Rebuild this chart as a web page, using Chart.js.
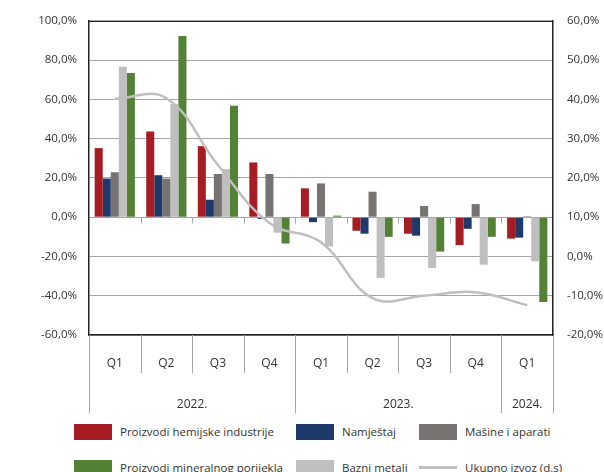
<!DOCTYPE html>
<html>
<head>
<meta charset="utf-8">
<script src="https://cdn.jsdelivr.net/npm/chart.js@4.4.1/dist/chart.umd.min.js"></script>
<style>
    html, body { margin: 0; padding: 0; background: #fff; }
    #wrap { position: relative; width: 604px; height: 472px; overflow: hidden; font-family: "Open Sans", sans-serif; color: #333; }
    #myChart { position: absolute; left: 0; top: 0; }
    .lg-box { position: absolute; width: 38px; height: 16px; }
    .lg-line { position: absolute; width: 38px; height: 3px; background: #bfbfbf; }
    .lg-text { position: absolute; font-size: 11.5px; line-height: 16px; white-space: nowrap; }
</style>
</head>
<body>
<div id="wrap">
    <canvas id="myChart" width="604" height="420"></canvas>
    <div id="legend"></div>
</div>
<script>
var quarters = ['Q1', 'Q2', 'Q3', 'Q4', 'Q1', 'Q2', 'Q3', 'Q4', 'Q1'];
var years = [
    {label: '2022.', from: 0, to: 4},
    {label: '2023.', from: 4, to: 8},
    {label: '2024.', from: 8, to: 9}
];

var hemija = [35.2, 43.7, 36.2, 27.9, 14.7, -6.9, -8.4, -14.2, -10.9];
var namjestaj = [19.7, 21.4, 8.9, -0.8, -2.5, -8.4, -9.4, -5.9, -10.4];
var masine = [22.9, 19.7, 22.0, 22.0, 17.2, 13.0, 5.7, 6.7, 0.5];
var bazniMetali = [76.7, 57.7, 24.5, -7.9, -14.9, -30.9, -25.9, -24.2, -22.5];
var mineralni = [73.4, 92.3, 56.8, -13.4, 0.8, -10.0, -17.5, -10.0, -43.2];
var ukupnoIzvoz = [40.2, 40.3, 23.3, 8.5, 3.6, -10.6, -10.0, -9.1, -12.4];

var FONT = {family: '"Open Sans", sans-serif', size: 11.5};
var TEXT_COLOR = '#333';

function pct(v) {
    return v.toFixed(1).replace('.', ',') + '%';
}

var series = [
    {label: 'Proizvodi hemijske industrije', data: hemija, color: '#a51d23'},
    {label: 'Namještaj', data: namjestaj, color: '#1d3a6b'},
    {label: 'Mašine i aparati', data: masine, color: '#777372'},
    {label: 'Bazni metali', data: bazniMetali, color: '#bfbfbf'},
    {label: 'Proizvodi mineralnog porijekla', data: mineralni, color: '#538135'}
];

function $each(arr, fn) {
    for (var i = 0; i < arr.length; i++) fn(arr[i], i);
}

// dividers and year labels under the plot, small ticks on the zero line
var quarterGrid = {
    id: 'quarterGrid',
    afterDraw: function(chart) {
        var ctx = chart.ctx;
        var area = chart.chartArea;
        var x = chart.scales.x;
        var y = chart.scales.y;
        var step = (area.right - area.left) / quarters.length;
        var zero = Math.round(y.getPixelForValue(0)) + 0.5;

        ctx.save();
        ctx.strokeStyle = '#a6a6a6';
        ctx.lineWidth = 1;
        ctx.beginPath();
        for (var i = 0; i <= quarters.length; i++) {
            var px = Math.round(x.getPixelForValue(i) - step / 2) + 0.5;
            if (i > 0 && i < quarters.length) {
                ctx.moveTo(px, zero);
                ctx.lineTo(px, zero + 6);
            }
            var isYear = years.some(function(yr) { return yr.from === i || yr.to === i; });
            ctx.moveTo(px, area.bottom);
            ctx.lineTo(px, area.bottom + (isYear ? 78 : 38));
        }
        ctx.stroke();

        // top border of the plot
        ctx.strokeStyle = '#222';
        ctx.beginPath();
        ctx.moveTo(area.left, Math.round(area.top) + 0.5);
        ctx.lineTo(area.right, Math.round(area.top) + 0.5);
        ctx.stroke();

        ctx.fillStyle = TEXT_COLOR;
        ctx.font = '12px "Open Sans", sans-serif';
        ctx.textAlign = 'center';
        ctx.textBaseline = 'middle';
        $each(years, function(yr) {
            var cx = (x.getPixelForValue(yr.from) + x.getPixelForValue(yr.to - 1)) / 2;
            ctx.fillText(yr.label, cx, area.bottom + 70);
        });
        ctx.restore();
    }
};

function buildDatasets() {
    var datasets = [{
        type: 'line',
        label: 'Ukupno izvoz (d.s)',
        data: ukupnoIzvoz,
        yAxisID: 'y1',
        borderColor: '#bfbfbf',
        borderWidth: 2.5,
        pointRadius: 0,
        tension: 0.4,
        fill: false,
        order: 0
    }];
    $each(series, function(s) {
        datasets.push({
            type: 'bar',
            label: s.label,
            data: s.data,
            yAxisID: 'y',
            backgroundColor: s.color,
            borderWidth: 0,
            categoryPercentage: 0.78,
            barPercentage: 1.0,
            order: 1
        });
    });
    return datasets;
}

function buildLegend() {
    var legend = document.getElementById('legend');
    var items = [
        {label: series[0].label, color: series[0].color, x: 74, y: 424},
        {label: series[1].label, color: series[1].color, x: 296, y: 424},
        {label: series[2].label, color: series[2].color, x: 419, y: 424},
        {label: series[4].label, color: series[4].color, x: 74, y: 460},
        {label: series[3].label, color: series[3].color, x: 296, y: 460},
        {label: 'Ukupno izvoz (d.s)', color: null, x: 419, y: 460}
    ];
    $each(items, function(it) {
        var mark = document.createElement('div');
        if (it.color) {
            mark.className = 'lg-box';
            mark.style.background = it.color;
            mark.style.left = it.x + 'px';
            mark.style.top = it.y + 'px';
        } else {
            mark.className = 'lg-line';
            mark.style.left = it.x + 'px';
            mark.style.top = (it.y + 6) + 'px';
        }
        legend.appendChild(mark);
        var txt = document.createElement('div');
        txt.className = 'lg-text';
        txt.textContent = it.label;
        txt.style.left = (it.x + 46) + 'px';
        txt.style.top = it.y + 'px';
        legend.appendChild(txt);
    });
}

var chart = new Chart(document.getElementById('myChart'), {
    data: {
        labels: quarters,
        datasets: buildDatasets()
    },
    plugins: [quarterGrid],
    options: {
        responsive: false,
        animation: false,
        devicePixelRatio: 1,
        layout: {padding: {top: 9, left: 0, right: 0, bottom: 0}},
        plugins: {
            legend: {display: false},
            tooltip: {enabled: false}
        },
        scales: {
            x: {
                position: 'bottom',
                grid: {display: false, drawTicks: false},
                border: {color: '#222', width: 1.5},
                ticks: {color: TEXT_COLOR, font: {family: FONT.family, size: 12}, padding: 21},
                afterFit: function(scale) { scale.height = 85; }
            },
            y: {
                position: 'left',
                min: -60,
                max: 100,
                ticks: {stepSize: 20, color: TEXT_COLOR, font: FONT, padding: 12, callback: pct},
                grid: {color: '#a6a6a6', lineWidth: 1, drawTicks: false},
                border: {color: '#222', width: 1.5},
                afterFit: function(scale) { scale.width = 89; }
            },
            y1: {
                position: 'right',
                min: -20,
                max: 60,
                ticks: {stepSize: 10, color: TEXT_COLOR, font: FONT, padding: 14, callback: pct},
                grid: {display: false, drawTicks: false},
                border: {color: '#222', width: 1.5},
                afterFit: function(scale) { scale.width = 51; }
            }
        }
    }
});

buildLegend();
</script>
</body>
</html>
